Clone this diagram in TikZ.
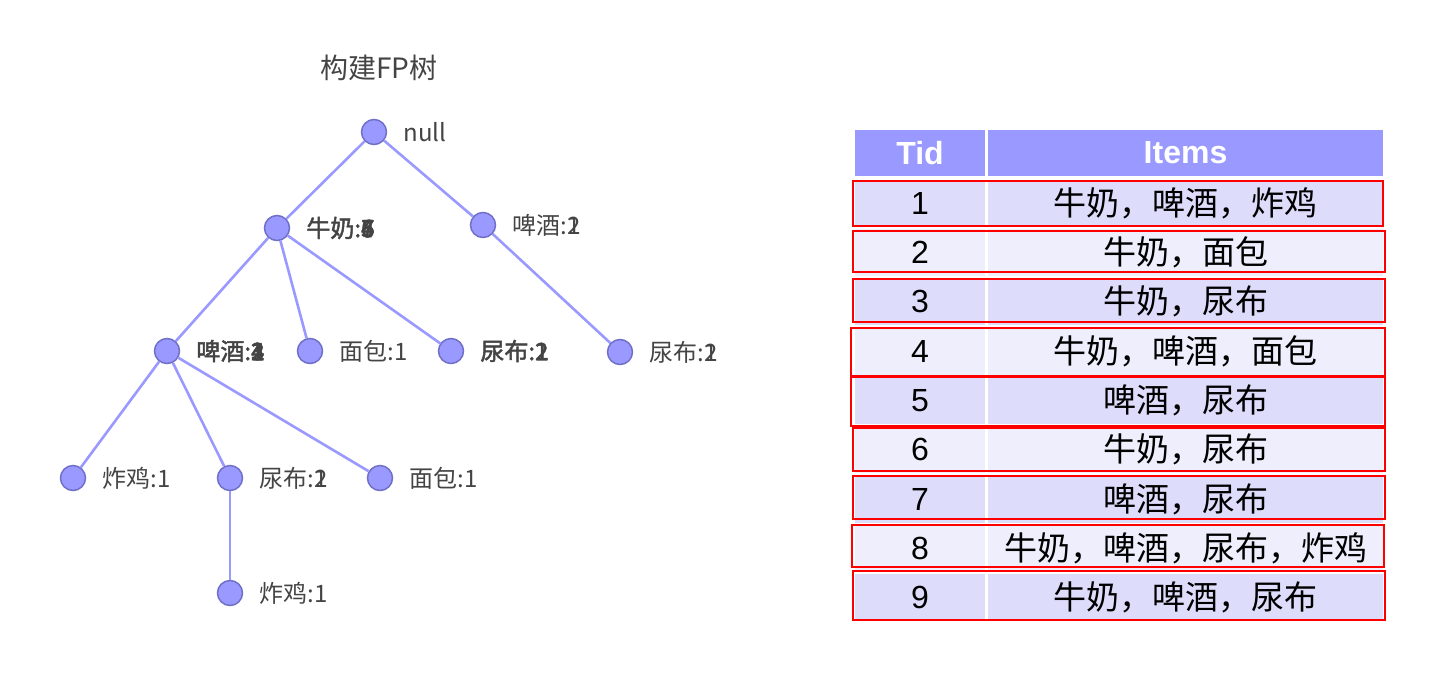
\documentclass[tikz,border=0pt]{standalone}
\usepackage{fontspec}
\setmainfont{Liberation Sans}
\newfontfamily\cjk{Noto Sans CJK SC}
\newfontfamily\cjkb[FakeBold=2]{Noto Sans CJK SC}
\definecolor{nodefill}{RGB}{153,153,255}
\definecolor{nodeline}{RGB}{112,112,200}
\definecolor{linkcol}{RGB}{153,153,255}
\definecolor{labgray}{RGB}{68,68,68}
\definecolor{headfill}{RGB}{153,153,255}
\definecolor{rowafill}{RGB}{221,221,251}
\definecolor{rowbfill}{RGB}{238,238,252}
\newcommand\olap[1]{\rlap{#1}}

\begin{document}
\begin{tikzpicture}[x=1pt,y=-1pt,label distance=16pt,
  vert/.style={circle,fill=nodefill,draw=nodeline,line width=1.5pt,minimum size=25pt,inner sep=0pt},
  tlab/.style={text=labgray,inner sep=0pt,font=\cjk\fontsize{24}{24}\selectfont},
  blab/.style={tlab,font=\cjkb\fontsize{24}{24}\selectfont},
  link/.style={linkcol,line width=2.6pt},
  hcell/.style={fill=headfill,text=white,inner sep=0pt,minimum height=46pt,font=\bfseries\fontsize{32}{32}\selectfont},
  tidcell/.style={inner sep=0pt,minimum width=130pt,minimum height=47pt,font=\fontsize{32}{32}\selectfont},
  itemcell/.style={inner sep=0pt,minimum width=395pt,minimum height=47pt,font=\cjk\fontsize{33}{33}\selectfont},
  rowa/.style={fill=rowafill},
  rowb/.style={fill=rowbfill},
  redbox/.style={draw=red,line width=2pt}]
  \useasboundingbox (0,0) rectangle (1431,691);

  % title and tree
  \node[text=labgray,font=\cjk\fontsize{28}{28}\selectfont] (title) at (379,68) {构建FP树};
  \node[vert,label={[tlab]right:{null}}] (root) at (374,132) {};
  \node[vert,label={[blab]right:{牛奶:\olap{4}\olap{5}\olap{6}7}}] (milk) at (277,228) {};
  \node[vert,label={[tlab]right:{啤酒:\olap{1}2}}] (beerR) at (483,225) {};
  \node[vert,label={[blab]right:{啤酒:\olap{1}\olap{2}\olap{3}4}}] (beerL) at (167,351) {};
  \node[vert,label={[tlab]right:{面包:1}}] (bread) at (310,351) {};
  \node[vert,label={[blab]right:{尿布:\olap{1}2}}] (diaperM) at (451,351) {};
  \node[vert,label={[tlab]right:{尿布:\olap{1}2}}] (diaperR) at (620,352) {};
  \node[vert,label={[tlab]right:{炸鸡:1}}] (chicken) at (73,478) {};
  \node[vert,label={[tlab]right:{尿布:\olap{1}2}}] (diaperL) at (230,478) {};
  \node[vert,label={[tlab]right:{面包:1}}] (breadL) at (380,478) {};
  \node[vert,label={[tlab]right:{炸鸡:1}}] (chickenL) at (230,593) {};
  \draw[link] (root) -- (milk);
  \draw[link] (root) -- (beerR);
  \draw[link] (milk) -- (beerL);
  \draw[link] (milk) -- (bread);
  \draw[link] (milk) -- (diaperM);
  \draw[link] (beerR) -- (diaperR);
  \draw[link] (beerL) -- (chicken);
  \draw[link] (beerL) -- (diaperL);
  \draw[link] (beerL) -- (breadL);
  \draw[link] (diaperL) -- (chickenL);

  % table
  \node[hcell,minimum width=130pt] (htid) at (920,153) {Tid};
  \node[hcell,minimum width=395pt] (hitems) at (1185.5,153) {Items};
  \node[tidcell,rowa] (tid1) at (920,203.2) {1};
  \node[itemcell,rowa] (it1) at (1185.5,203.2) {牛奶，啤酒，炸鸡};
  \node[tidcell,rowb] (tid2) at (920,252.5) {2};
  \node[itemcell,rowb] (it2) at (1185.5,252.5) {牛奶，面包};
  \node[tidcell,rowa] (tid3) at (920,301.8) {3};
  \node[itemcell,rowa] (it3) at (1185.5,301.8) {牛奶，尿布};
  \node[tidcell,rowb] (tid4) at (920,351.1) {4};
  \node[itemcell,rowb] (it4) at (1185.5,351.1) {牛奶，啤酒，面包};
  \node[tidcell,rowa] (tid5) at (920,400.4) {5};
  \node[itemcell,rowa] (it5) at (1185.5,400.4) {啤酒，尿布};
  \node[tidcell,rowb] (tid6) at (920,449.7) {6};
  \node[itemcell,rowb] (it6) at (1185.5,449.7) {牛奶，尿布};
  \node[tidcell,rowa] (tid7) at (920,499.0) {7};
  \node[itemcell,rowa] (it7) at (1185.5,499.0) {啤酒，尿布};
  \node[tidcell,rowb] (tid8) at (920,548.3) {8};
  \node[itemcell,rowb] (it8) at (1185.5,548.3) {牛奶，啤酒，尿布，炸鸡};
  \node[tidcell,rowa] (tid9) at (920,597.6) {9};
  \node[itemcell,rowa] (it9) at (1185.5,597.6) {牛奶，啤酒，尿布};

  % red frames
  \draw[redbox] (853,181) rectangle (1383,226);
  \draw[redbox] (853,231) rectangle (1385,272);
  \draw[redbox] (853,279) rectangle (1385,322);
  \draw[redbox] (851,328) rectangle (1385,376);
  \draw[redbox] (851,377) rectangle (1385,426);
  \draw[redbox] (853,428) rectangle (1385,471);
  \draw[redbox] (853,476) rectangle (1385,519);
  \draw[redbox] (852,525) rectangle (1384,567);
  \draw[redbox] (853,571) rectangle (1385,620);
\end{tikzpicture}
\end{document}
